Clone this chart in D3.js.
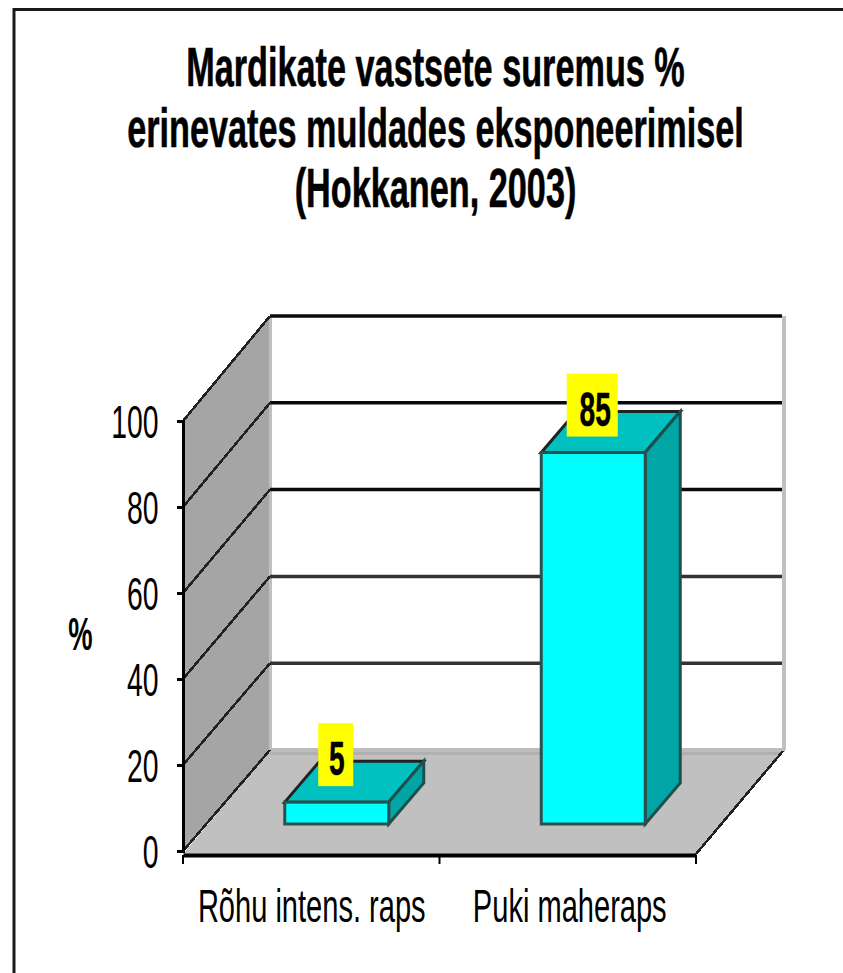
<!DOCTYPE html>
<html>
<head>
<meta charset="utf-8">
<script src="https://cdn.jsdelivr.net/npm/d3@7"></script>
<style>
html, body { margin: 0; padding: 0; background: #fff; }
svg { display: block; }
text { font-family: "Liberation Sans", Arial, sans-serif; fill: #000; }
</style>
</head>
<body>
<div id="chart"></div>
<script>
// values
var categories = ['Rõhu intens. raps', 'Puki maheraps'];
var values = [5, 85];
var yTicks = [0, 20, 40, 60, 80, 100];
var titleLines = ['Mardikate vastsete suremus %', 'erinevates muldades eksponeerimisel', '(Hokkanen, 2003)'];
var yLabel = '%';

var width = 843, height = 973;
var depth = {x: 87, y: -104};     // offset of the back wall
var barDepth = {x: 35, y: -41};   // offset of a bar's back face
var barOffset = {x: 25.5, y: -27};  // bar front face, from the front edge of the floor
var barWidth = 104;
var narrow = 0.617;               // the reference has squeezed Arial, no narrow font here

var svg = d3.select('#chart').append('svg')
    .attr('width', width)
    .attr('height', height);

var x = d3.scaleBand().domain(categories).range([183, 696]);
var y = d3.scaleLinear().domain([0, 100]).range([851, 421]);
var yBack = d3.scaleLinear().domain([0, 100]).range([750, 316]);
// bars come out a bit taller than the front axis scale
var barH = d3.scaleLinear().domain([0, 100]).range([0, 437]);

var x0 = x.range()[0], x1 = x.range()[1], y0 = y(0), y100 = y(100);

function poly(points) {
    return points.map(function(p) { return p.join(','); }).join(' ');
}

// squeeze a text around its anchor
function squeeze(sel, px, py, sx) {
    sel.attr('x', 0).attr('y', 0)
        .attr('transform', 'translate(' + px + ',' + py + ') scale(' + sx + ',1)');
}

// frame
svg.append('rect')
    .attr('x', 14).attr('y', 9.5)
    .attr('width', 900).attr('height', 1100)
    .attr('fill', '#fff').attr('stroke', '#1a1a1a').attr('stroke-width', 3);

// title
svg.selectAll('text.title')
    .data(titleLines)
  .enter().append('text')
    .attr('class', 'title')
    .attr('text-anchor', 'middle')
    .attr('font-size', 55.5)
    .attr('font-weight', 'bold')
    .attr('stroke', '#000')
    .attr('stroke-width', 0.6)
    .text(function(d) { return d; })
    .each(function(d, i) {
        squeeze(d3.select(this), 435.5, 86 + i * 60.5, narrow);
    });

// back wall
svg.append('polygon')
    .attr('points', poly([[x0 + depth.x, yBack(100)], [x1 + depth.x, yBack(100)], [x1 + depth.x, yBack(0)], [x0 + depth.x, yBack(0)]]))
    .attr('fill', '#fff');

// side wall
svg.append('polygon')
    .attr('points', poly([[x0, y100], [x0 + depth.x, yBack(100)], [x0 + depth.x, yBack(0)], [x0, y0]]))
    .attr('fill', '#a5a5a5');

// floor
svg.append('polygon')
    .attr('points', poly([[x0, y0 + 3], [x0 + depth.x, yBack(0)], [x1 + depth.x, yBack(0)], [x1, y0 + 3]]))
    .attr('fill', '#c0c0c0');

// wall edges
svg.append('rect')
    .attr('x', x0 + depth.x - 1).attr('y', yBack(100))
    .attr('width', 3).attr('height', yBack(0) - yBack(100))
    .attr('fill', '#c0c0c0');
svg.append('rect')
    .attr('x', x1 + depth.x - 1).attr('y', yBack(100))
    .attr('width', 4).attr('height', yBack(0) - yBack(100))
    .attr('fill', '#c0c0c0');
svg.append('rect')
    .attr('x', x0 + depth.x).attr('y', yBack(0) - 2)
    .attr('width', x1 - x0 + 2).attr('height', 4)
    .attr('fill', '#bdbdbd');
svg.append('rect')
    .attr('x', x0 + depth.x).attr('y', yBack(0) + 2)
    .attr('width', x1 - x0 - 2).attr('height', 3)
    .attr('fill', '#b0b0b0');

// gridlines, on the side wall and the back wall
var grid = svg.append('g').attr('class', 'grid');
grid.selectAll('line.back')
    .data(yTicks.slice(1))
  .enter().append('line')
    .attr('class', 'back')
    .attr('x1', x0 + depth.x)
    .attr('x2', x1 + depth.x - 1)
    .attr('y1', function(d) { return yBack(d); })
    .attr('y2', function(d) { return yBack(d); })
    .attr('stroke', function(d) { return d == 40 || d == 20 ? '#333' : '#0a0a0a'; })
    .attr('stroke-width', 3.5);
grid.selectAll('line.side')
    .data(yTicks)
  .enter().append('line')
    .attr('class', 'side')
    .attr('x1', x0)
    .attr('x2', x0 + depth.x)
    .attr('y1', function(d) { return y(d); })
    .attr('y2', function(d) { return yBack(d); })
    .attr('stroke', '#222')
    .attr('stroke-width', 2.5)
    .attr('shape-rendering', 'crispEdges');
// right edge of the floor
grid.append('line')
    .attr('x1', x1).attr('y1', y0 + 3)
    .attr('x2', x1 + depth.x).attr('y2', yBack(0) + 1)
    .attr('stroke', '#222')
    .attr('stroke-width', 2.5)
    .attr('shape-rendering', 'crispEdges');

// bars
var bars = svg.selectAll('g.bar')
    .data(categories)
  .enter().append('g')
    .attr('class', 'bar')
    .attr('transform', function(d) {
        var cx = x(d) + x.bandwidth() / 2 + barOffset.x;
        return 'translate(' + (cx - barWidth / 2) + ',' + (y0 + barOffset.y) + ')';
    });

bars.append('polygon') // top
    .attr('points', function(d, i) {
        var t = -barH(values[i]);
        return poly([[0, t], [barDepth.x, t + barDepth.y], [barWidth + barDepth.x, t + barDepth.y], [barWidth, t]]);
    })
    .attr('fill', '#00c0c0').attr('stroke', '#222').attr('stroke-width', 3);

bars.append('polygon') // side
    .attr('points', function(d, i) {
        var t = -barH(values[i]);
        return poly([[barWidth, t], [barWidth + barDepth.x, t + barDepth.y], [barWidth + barDepth.x, barDepth.y], [barWidth, 0]]);
    })
    .attr('fill', '#00a5a5').attr('stroke', '#1d4f4f').attr('stroke-width', 3);

bars.append('rect') // front
    .attr('x', 0)
    .attr('y', function(d, i) { return -barH(values[i]); })
    .attr('width', barWidth)
    .attr('height', function(d, i) { return barH(values[i]); })
    .attr('fill', '#00ffff').attr('stroke', '#2f4f4f').attr('stroke-width', 3);

// value labels
var boxW = [35, 51], boxH = 63;
bars.append('rect')
    .attr('x', function(d, i) { return barWidth / 2 - boxW[i] / 2 - 1; })
    .attr('y', function(d, i) { return -barH(values[i]) - 79; })
    .attr('width', function(d, i) { return boxW[i]; })
    .attr('height', boxH)
    .attr('fill', '#ffff00');
bars.append('text')
    .attr('text-anchor', 'middle')
    .attr('font-size', 48.5)
    .attr('font-weight', 'bold')
    .attr('stroke', '#000')
    .attr('stroke-width', 0.5)
    .text(function(d, i) { return values[i]; })
    .each(function(d, i) {
        squeeze(d3.select(this), barWidth / 2 + i * 2, -barH(values[i]) - 27, 0.58);
    });

// y axis
var yAxis = svg.append('g')
    .attr('transform', 'translate(' + x0 + ',0)')
    .call(d3.axisLeft(y).tickValues(yTicks).tickSize(6).tickPadding(11));
yAxis.select('.domain').attr('stroke', '#000').attr('stroke-width', 3);
yAxis.selectAll('.tick line').attr('stroke', '#000').attr('stroke-width', 3);
yAxis.selectAll('.tick text')
    .attr('font-size', 46)
    .attr('font-family', '"Liberation Sans", Arial, sans-serif')
    .attr('dy', '.35em')
    .attr('transform', 'translate(-14,0) scale(' + narrow + ',1)');

// x axis
var xAxis = svg.append('g')
    .attr('transform', 'translate(0,' + (y0 + 4) + ')')
    .call(d3.axisBottom(x).tickSize(0).tickPadding(0));
xAxis.select('.domain').attr('stroke', '#000').attr('stroke-width', 4);
xAxis.selectAll('.tick text')
    .attr('font-size', 46.5)
    .attr('font-family', '"Liberation Sans", Arial, sans-serif')
    .attr('dy', 0)
    .each(function(d, i) {
        squeeze(d3.select(this), 0.5 + i * 1.5, 67, 0.625);
    });
xAxis.selectAll('line.sep')
    .data([x0, x0 + x.step(), x1])
  .enter().append('line')
    .attr('class', 'sep')
    .attr('x1', function(d) { return d; })
    .attr('x2', function(d) { return d; })
    .attr('y1', 0).attr('y2', 9)
    .attr('stroke', '#000').attr('stroke-width', 2);

// y label
svg.append('text')
    .attr('text-anchor', 'middle')
    .attr('font-size', 46)
    .attr('font-weight', 'bold')
    .text(yLabel)
    .each(function() { squeeze(d3.select(this), 80.5, 650, 0.595); });
</script>
</body>
</html>
